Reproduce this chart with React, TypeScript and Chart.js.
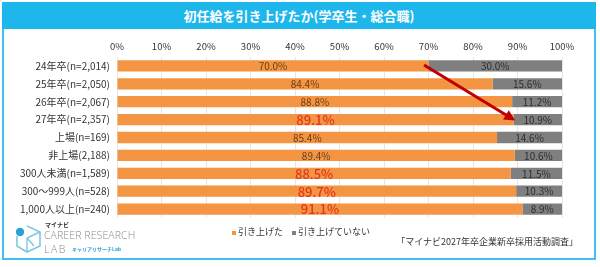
import React, { useEffect, useRef } from "react";
import { Chart, registerables } from "chart.js";

Chart.register(...registerables);

const TITLE = "初任給を引き上げたか(学卒生・総合職)";
const categories = [
  "24年卒(n=2,014)",
  "25年卒(n=2,050)",
  "26年卒(n=2,067)",
  "27年卒(n=2,357)",
  "上場(n=169)",
  "非上場(2,188)",
  "300人未満(n=1,589)",
  "300～999人(n=528)",
  "1,000人以上(n=240)",
];
const seriesNames = ["引き上げた", "引き上げていない"];
const raised = [70.0, 84.4, 88.8, 89.1, 85.4, 89.4, 88.5, 89.7, 91.1];
const notRaised = [30.0, 15.6, 11.2, 10.9, 14.6, 10.6, 11.5, 10.3, 8.9];
const highlighted = [false, false, false, true, false, false, true, true, true];
const xTicks = [0, 10, 20, 30, 40, 50, 60, 70, 80, 90, 100];
const SOURCE = "「マイナビ2027年卒企業新卒採用活動調査」";

const ORANGE = "#F39543";
const GRAY = "#7F7F7F";
const CYAN = "#1DB7EC";
const FONT = "'Noto Sans CJK JP', 'Noto Sans', sans-serif";

const labelPlugin = {
  id: "barLabels",
  afterDatasetsDraw(chart: any) {
    const ctx = chart.ctx;
    ctx.save();
    ctx.textAlign = "center";
    ctx.textBaseline = "middle";
    chart.data.datasets.forEach((ds: any, di: number) => {
      const meta = chart.getDatasetMeta(di);
      meta.data.forEach((bar: any, i: number) => {
        const v = ds.data[i];
        const cx = (bar.base + bar.x) / 2;
        if (di === 0 && highlighted[i]) {
          ctx.font = `500 13px ${FONT}`;
          ctx.fillStyle = "#E5361B";
        } else if (di === 0) {
          ctx.font = `10px ${FONT}`;
          ctx.fillStyle = "#6B3C14";
        } else {
          ctx.font = `10px ${FONT}`;
          ctx.fillStyle = "#2E2E2E";
        }
        ctx.fillText(v.toFixed(1) + "%", cx, bar.y + 0.5);
      });
    });
    ctx.restore();
  },
};

const arrowPlugin = {
  id: "arrow",
  afterDatasetsDraw(chart: any) {
    const xs = chart.scales.x;
    const ys = chart.scales.y;
    const x1 = xs.getPixelForValue(raised[0] - 1);
    const y1 = ys.getPixelForValue(0) - 1;
    const x2 = xs.getPixelForValue(raised[3] + 0.4);
    const y2 = ys.getPixelForValue(3) + 1;
    const ang = Math.atan2(y2 - y1, x2 - x1);
    const head = 11;
    const ctx = chart.ctx;
    ctx.save();
    ctx.strokeStyle = "#C00000";
    ctx.fillStyle = "#C00000";
    ctx.lineWidth = 3;
    ctx.beginPath();
    ctx.moveTo(x1, y1);
    ctx.lineTo(x2 - Math.cos(ang) * head * 0.8, y2 - Math.sin(ang) * head * 0.8);
    ctx.stroke();
    ctx.beginPath();
    ctx.moveTo(x2, y2);
    ctx.lineTo(
      x2 - head * Math.cos(ang) + 5.5 * Math.sin(ang),
      y2 - head * Math.sin(ang) - 5.5 * Math.cos(ang)
    );
    ctx.lineTo(
      x2 - head * Math.cos(ang) - 5.5 * Math.sin(ang),
      y2 - head * Math.sin(ang) + 5.5 * Math.cos(ang)
    );
    ctx.closePath();
    ctx.fill();
    ctx.restore();
  },
};

function Logo() {
  return (
    <div style={{ position: "absolute", left: 14, top: 220, width: 130, height: 36 }}>
      <svg width="30" height="32" viewBox="0 0 30 32" style={{ position: "absolute", left: 0, top: 2 }}>
        <path d="M13 4 L26 10 L26 24 L13 30 L3 24 L3 14" fill="none" stroke="#7FC8E0" strokeWidth="1.6" />
        <path d="M13 16 L26 10 M13 16 L13 30 M13 16 L20 24" fill="none" stroke="#7FC8E0" strokeWidth="1.4" />
        <circle cx="6" cy="10" r="4.2" fill="#2AA0D8" />
      </svg>
      <div style={{ position: "absolute", left: 31, top: 1, fontSize: 6, fontWeight: 700, color: "#333", fontFamily: FONT, lineHeight: "7px" }}>マイナビ</div>
      <div style={{ position: "absolute", left: 30, top: 9, fontSize: 10.5, color: "#8A8A8A", fontFamily: "'Open Sans', 'Lato', sans-serif", fontWeight: 300, lineHeight: "12px", letterSpacing: 0.1, whiteSpace: "nowrap" }}>CAREER RESEARCH</div>
      <div style={{ position: "absolute", left: 30, top: 23, fontSize: 10.5, color: "#8A8A8A", fontFamily: "'Open Sans', 'Lato', sans-serif", fontWeight: 300, lineHeight: "12px", letterSpacing: 1.5, whiteSpace: "nowrap" }}>LAB</div>
      <div style={{ position: "absolute", left: 58, top: 26, fontSize: 5, color: "#2AA0D8", fontFamily: FONT, lineHeight: "6px", whiteSpace: "nowrap", fontWeight: 700 }}>キャリアリサーチLab</div>
    </div>
  );
}

export default function App() {
  const ref = useRef<HTMLCanvasElement | null>(null);

  useEffect(() => {
    document.body.style.margin = "0";
    const canvas = ref.current!;
    const chart = new Chart(canvas, {
      type: "bar",
      data: {
        labels: categories,
        datasets: [
          { label: seriesNames[0], data: raised, backgroundColor: ORANGE, borderWidth: 0 },
          { label: seriesNames[1], data: notRaised, backgroundColor: GRAY, borderWidth: 0 },
        ],
      },
      options: {
        indexAxis: "y",
        responsive: false,
        animation: false,
        maintainAspectRatio: false,
        layout: { padding: { left: 0, right: 38, top: 35, bottom: 49 } },
        datasets: { bar: { categoryPercentage: 1, barPercentage: 0.63 } },
        plugins: { legend: { display: false }, tooltip: { enabled: false }, title: { display: false } },
        scales: {
          x: {
            position: "top",
            stacked: true,
            min: 0,
            max: 100,
            afterBuildTicks: (s: any) => {
              s.ticks = xTicks.map((v) => ({ value: v }));
            },
            afterFit: (s: any) => {
              s.height = 22;
            },
            grid: { color: "#E6E6E6", drawTicks: false, lineWidth: 1 },
            border: { display: false },
            ticks: {
              padding: 5,
              color: "#333",
              font: { family: FONT, size: 9.5 },
              callback: (v: any) => v + "%",
              maxRotation: 0,
            },
          },
          y: {
            stacked: true,
            afterFit: (s: any) => {
              s.width = 117;
            },
            grid: { display: false, drawTicks: false },
            border: { display: false },
            ticks: { padding: 7, color: "#333", font: { family: FONT, size: 10 } },
          },
        },
      },
      plugins: [labelPlugin, arrowPlugin],
    } as any);
    return () => chart.destroy();
  }, []);

  return (
    <div style={{ position: "absolute", left: 0, top: 0, width: 600, height: 267, background: "#fff", overflow: "hidden", fontFamily: FONT }}>
      <div style={{ position: "absolute", left: 2, top: 2, width: 590, height: 256, border: `2px solid ${CYAN}`, borderTop: "none", boxSizing: "content-box", opacity: 0.85 }} />
      <div style={{ position: "absolute", left: 2, top: 2, width: 594, height: 27, background: CYAN, color: "#fff", fontSize: 13, fontWeight: 700, textAlign: "center", lineHeight: "27px" }}>
        {TITLE}
      </div>
      <canvas ref={ref} width={600} height={267} style={{ position: "absolute", left: 0, top: 0 }} />
      <div style={{ position: "absolute", left: 232, top: 226, fontSize: 9, color: "#333", whiteSpace: "nowrap", lineHeight: "12px" }}>
        <span style={{ display: "inline-block", width: 4, height: 4, background: ORANGE, marginRight: 2, verticalAlign: "middle" }} />
        {seriesNames[0]}
        <span style={{ display: "inline-block", width: 4, height: 4, background: GRAY, marginLeft: 9, marginRight: 2, verticalAlign: "middle" }} />
        {seriesNames[1]}
      </div>
      <div style={{ position: "absolute", right: 22, top: 236, fontSize: 9, color: "#333", whiteSpace: "nowrap", lineHeight: "12px" }}>
        {SOURCE}
      </div>
      <Logo />
    </div>
  );
}
